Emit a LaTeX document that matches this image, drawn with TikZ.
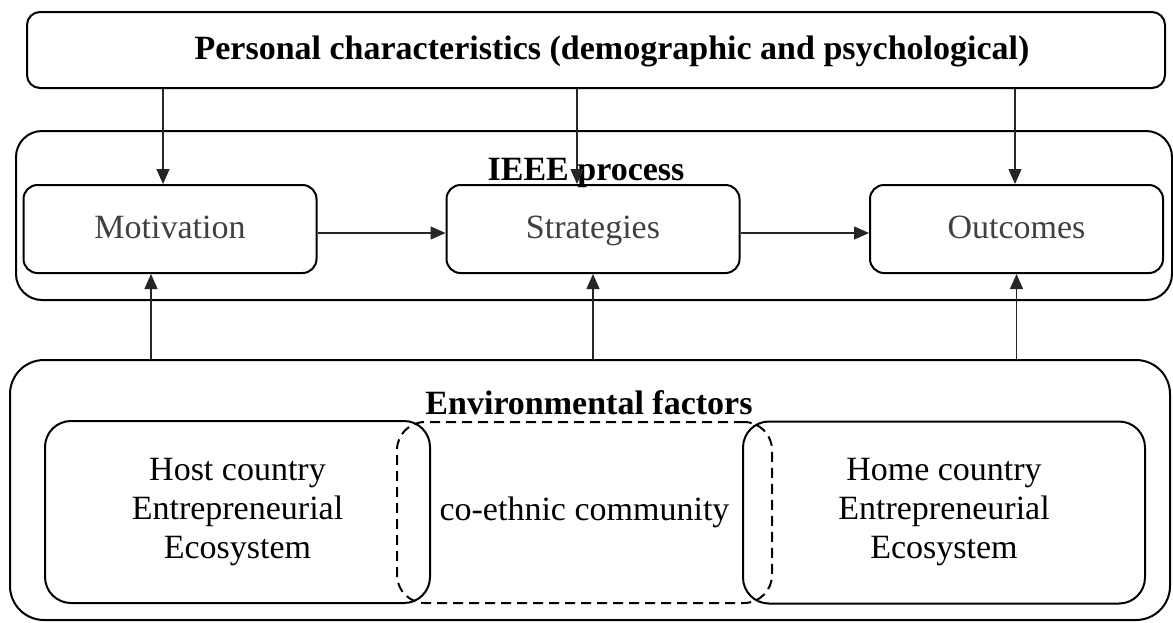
\documentclass[tikz,border=0pt]{standalone}
\usepackage{fontspec}
\setmainfont{Liberation Serif}
\usetikzlibrary{arrows.meta}
\definecolor{txtgray}{gray}{0.25}
\definecolor{linegray}{gray}{0.15}
\begin{document}
\begin{tikzpicture}[x=1pt,y=-1pt,
  box/.style={draw=black,line width=2pt,rounded corners=#1,inner sep=0pt},
  box/.default=14pt,
  procbox/.style={box=14pt,minimum width=293pt,minimum height=88pt,text=txtgray,font=\fontsize{34}{40}\selectfont,text height=24pt,text depth=6pt},
  ecobox/.style={box=26pt,minimum height=182pt,align=center,font=\fontsize{34}{39}\selectfont},
  dashbox/.style={draw=black,line width=2pt,dash pattern=on 10pt off 6pt,rounded corners=28pt,inner sep=0pt,minimum height=181pt,align=center,font=\fontsize{34}{39}\selectfont},
  arr/.style={draw=linegray,line width=1.2pt,-{Triangle[length=15pt,width=13pt]}},
  lbl/.style={font=\bfseries\fontsize{34}{40}\selectfont,inner sep=0pt,anchor=base}
]
\useasboundingbox (0,0) rectangle (1173,622);

% containers
\node[box=13pt,minimum width=1138pt,minimum height=76pt] (pc) at (596,50) {};
\node[lbl] (pct) at (612,59) {Personal characteristics (demographic and psychological)};

\node[box=26pt,minimum width=1156pt,minimum height=169pt] (ieee) at (594,215.5) {};
\node[box=34pt,minimum width=1160pt,minimum height=260pt] (env) at (590,490) {};

% process boxes
\node[procbox] (mot) at (170,229) {Motivation};
\node[procbox] (str) at (593,229) {Strategies};
\node[procbox] (out) at (1016.5,229) {Outcomes};

\node[lbl] (ieeet) at (586,180) {IEEE process};
\node[lbl] (envt) at (589,414) {Environmental factors};

% ecosystem boxes
\node[ecobox,minimum width=385pt] (host) at (237.5,512) {Host country\\Entrepreneurial\\Ecosystem};
\node[ecobox,minimum width=402pt] (home) at (944,512.5) {Home country\\Entrepreneurial\\Ecosystem};
\node[dashbox,minimum width=375pt] (coe) at (584.5,512.5) {co-ethnic community};

% arrow end points
\coordinate (motT) at ([xshift=-7pt]mot.north);
\coordinate (strT) at ([xshift=-16pt]str.north);
\coordinate (outT) at ([xshift=-1.5pt]out.north);
\coordinate (motB) at ([xshift=-19pt]mot.south);

% arrows from personal characteristics
\draw[arr] (pc.south -| motT) -- (motT);
\draw[arr] (pc.south -| strT) -- (strT);
\draw[arr] (pc.south -| outT) -- (outT);

% process arrows
\draw[arr] ([yshift=-4pt]mot.east) -- ([yshift=-4pt]str.west);
\draw[arr] ([yshift=-4pt]str.east) -- ([yshift=-4pt]out.west);

% arrows from environment
\draw[arr] (env.north -| motB) -- (motB);
\draw[arr] (env.north -| str.south) -- (str.south);
\draw[arr] (env.north -| out.south) -- (out.south);
\end{tikzpicture}
\end{document}
